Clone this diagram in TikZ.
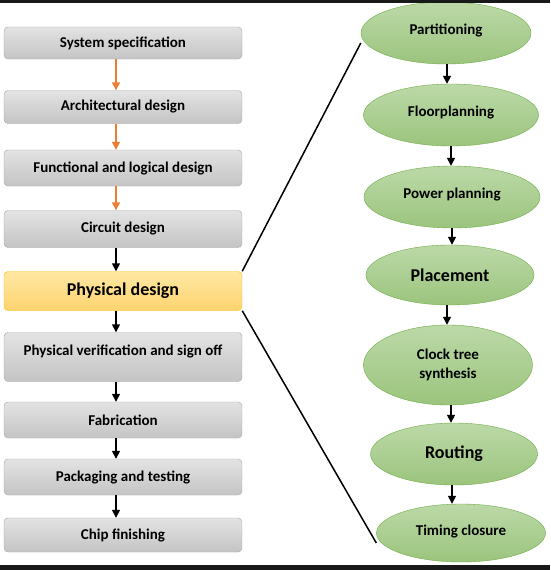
\documentclass[tikz,border=0pt]{standalone}
\usepackage{fontspec}
\setmainfont{Carlito}
\usetikzlibrary{shapes.geometric,arrows.meta}
\definecolor{boxline}{HTML}{A6A6A6}
\definecolor{boxtop}{HTML}{E3E3E3}
\definecolor{boxbot}{HTML}{C4C4C4}
\definecolor{pdline}{HTML}{FFC000}
\definecolor{pdtop}{HTML}{FFE8A3}
\definecolor{pdbot}{HTML}{FDD36F}
\definecolor{elline}{HTML}{70AD47}
\definecolor{eltop}{HTML}{BCD9A8}
\definecolor{elbot}{HTML}{9BC47D}
\definecolor{flowor}{HTML}{ED7D31}
\tikzset{
  stagebox/.style={draw=boxline,top color=boxtop,bottom color=boxbot,rounded corners=4pt,
    minimum width=238pt,inner sep=0pt,font=\bfseries\fontsize{15}{17}\selectfont},
  pdbox/.style={stagebox,draw=pdline,top color=pdtop,bottom color=pdbot,font=\bfseries\fontsize{18}{21}\selectfont},
  pstep/.style={ellipse,draw=elline,top color=eltop,bottom color=elbot,inner sep=0pt,
    font=\bfseries\fontsize{15}{19}\selectfont,align=center},
  bigstep/.style={pstep,font=\bfseries\fontsize{18}{21}\selectfont},
  orarrow/.style={draw=flowor,line width=1.5pt,-{Triangle[length=8pt,width=8pt]}},
  blarrow/.style={draw=black,line width=1.5pt,-{Triangle[length=8pt,width=8pt]}},
}
\begin{document}
\begin{tikzpicture}[x=1pt,y=-1pt]
\useasboundingbox[fill=white] (0,0) rectangle (550,570);
% design flow on the left
\node[stagebox,minimum height=32pt] (spec) at (123,43) {System specification};
\node[stagebox,minimum height=33pt] (arch) at (123,107) {Architectural design};
\node[stagebox,minimum height=36pt] (func) at (123,168) {Functional and logical design};
\node[stagebox,minimum height=37pt] (circ) at (123,229) {Circuit design};
\node[pdbox,minimum height=39pt] (phys) at (123,291) {Physical design};
\node[stagebox,minimum height=49pt,text depth=14pt] (verif) at (123,357) {Physical verification and sign off};
\node[stagebox,minimum height=36pt] (fab) at (123,420) {Fabrication};
\node[stagebox,minimum height=36pt] (pack) at (123,477) {Packaging and testing};
\node[stagebox,minimum height=34pt] (chip) at (123,535) {Chip finishing};
\draw[orarrow] ([xshift=-7pt]spec.south) -- ([xshift=-7pt]arch.north);
\draw[orarrow] ([xshift=-7pt]arch.south) -- ([xshift=-7pt]func.north);
\draw[orarrow] ([xshift=-7pt]func.south) -- ([xshift=-7pt]circ.north);
\draw[blarrow] ([xshift=-7pt]circ.south) -- ([xshift=-7pt]phys.north);
\draw[blarrow] ([xshift=-7pt]phys.south) -- ([xshift=-7pt]verif.north);
\draw[blarrow] ([xshift=-7pt]verif.south) -- ([xshift=-7pt]fab.north);
\draw[blarrow] ([xshift=-7pt]fab.south) -- ([xshift=-7pt]pack.north);
\draw[blarrow] ([xshift=-7pt]pack.south) -- ([xshift=-7pt]chip.north);
% physical design steps on the right
\node[pstep,minimum width=170pt,minimum height=62pt,text depth=8pt] (part) at (446,33) {Partitioning};
\node[pstep,minimum width=175pt,minimum height=62pt,text depth=8pt] (floor) at (451,115) {Floorplanning};
\node[pstep,minimum width=176pt,minimum height=62pt,text depth=8pt] (power) at (452,197) {Power planning};
\node[bigstep,minimum width=168pt,minimum height=60pt] (place) at (450,275) {Placement};
\node[pstep,minimum width=169pt,minimum height=80pt] (cts) at (448,365) {Clock tree\\synthesis};
\node[bigstep,minimum width=167pt,minimum height=62pt] (route) at (454,454) {Routing};
\node[pstep,minimum width=169pt,minimum height=58pt,text depth=6pt] (timing) at (461,533) {Timing closure};
\draw[blarrow] ([xshift=1pt]part.south) -- ([xshift=1pt]part.south |- floor.north);
\draw[blarrow] (floor.south) -- (floor.south |- power.north);
\draw[blarrow] (power.south) -- (power.south |- place.north);
\draw[blarrow] ([xshift=-3pt]place.south) -- ([xshift=-3pt]place.south |- cts.north);
\draw[blarrow] ([xshift=3pt]cts.south) -- ([xshift=3pt]cts.south |- route.north);
\draw[blarrow] ([xshift=-2pt]route.south) -- ([xshift=-2pt]route.south |- timing.north);
% zoom lines
\draw[line width=1.5pt] (phys.north east) -- ([yshift=-10pt]part.west);
\draw[line width=1.5pt] (phys.south east) -- ([yshift=-10pt]timing.west);
% frame bands
\fill[black!90] (0,0) rectangle (550,3);
\fill[black!90] (0,565) rectangle (550,570);
\end{tikzpicture}
\end{document}
